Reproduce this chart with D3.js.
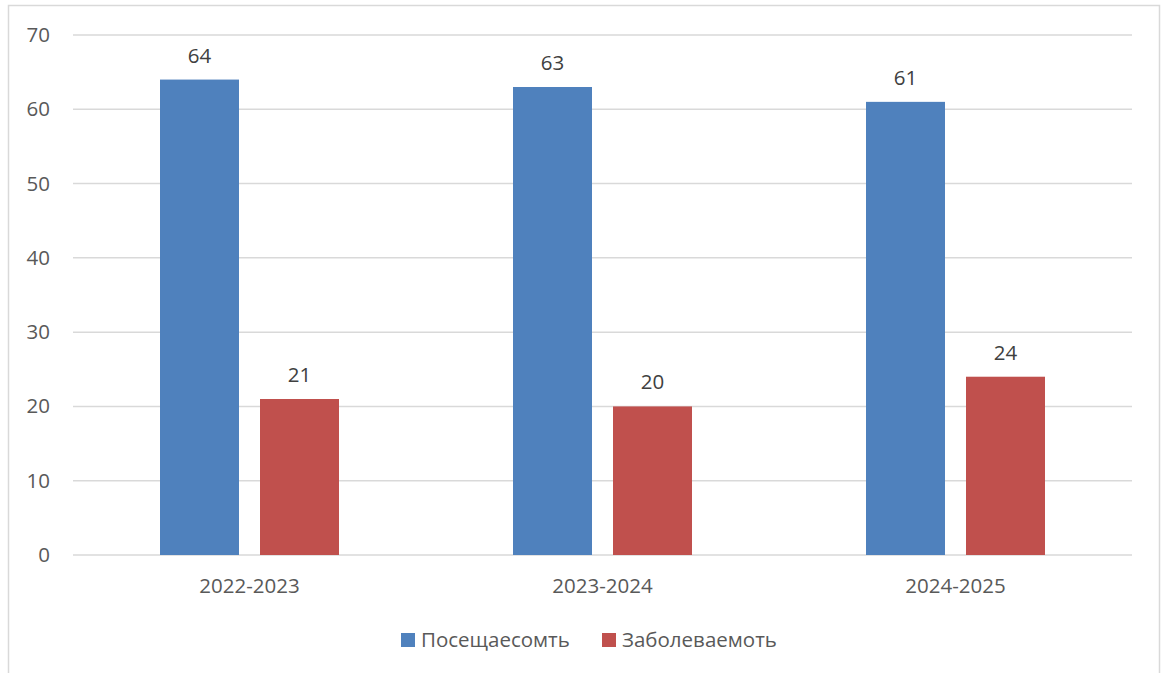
<!DOCTYPE html>
<html><head><meta charset="utf-8">
<script src="https://cdn.jsdelivr.net/npm/d3@7"></script>
<style>html,body{margin:0;padding:0;background:#fff;}svg{display:block;}</style>
</head><body>
<svg id="chart" width="1162" height="673"></svg>
<script>
const categories = ["2022-2023", "2023-2024", "2024-2025"];
const seriesNames = ["Посещаесомть", "Заболеваемоть"];
const attendance = [64, 63, 61];
const morbidity = [21, 20, 24];
const yTicks = [0, 10, 20, 30, 40, 50, 60, 70];
const colors = ["#4f81bd", "#c0504d"];

(function () {
const svg = d3.select("#chart");
const font = "'Open Sans', sans-serif";
const textColor = "#595959";
const fs = 20.5;

// outer border
svg.append("rect").attr("x", 8.5).attr("y", 5.5).attr("width", 1151).attr("height", 700)
  .attr("fill", "#fff").attr("stroke", "#d9d9d9").attr("stroke-width", 1.5);

const pL = 73, pR = 1132, pT = 35, pB = 555;
const x = d3.scaleBand().domain(categories).range([pL, pR]).paddingInner(0).paddingOuter(0);
const y = d3.scaleLinear().domain([0, 70]).range([pB, pT]);

// grid
svg.append("g").selectAll("line").data(yTicks).join("line")
  .attr("x1", pL).attr("x2", pR)
  .attr("y1", d => y(d)).attr("y2", d => y(d))
  .attr("stroke", "#d9d9d9").attr("stroke-width", 1.5);

// y axis labels
const yAxis = d3.axisLeft(y).tickValues(yTicks).tickSize(0).tickPadding(0);
const gy = svg.append("g").attr("transform", `translate(50,0)`).call(yAxis);
gy.select(".domain").remove();
gy.selectAll("text").attr("font-family", font).attr("font-size", fs).attr("fill", textColor);

// x axis labels
const xAxis = d3.axisBottom(x).tickSize(0).tickPadding(23);
const gx = svg.append("g").attr("transform", `translate(0,${pB})`).call(xAxis);
gx.select(".domain").remove();
gx.selectAll("text").attr("font-family", font).attr("font-size", fs).attr("fill", textColor);

const barW = 79, gap = 21;
const series = [attendance, morbidity];
const sub = d3.scaleOrdinal().domain([0, 1]).range([-(barW + gap / 2), gap / 2]);

series.forEach((vals, si) => {
  const g = svg.append("g");
  g.selectAll("rect").data(vals).join("rect")
    .attr("x", (d, i) => x(categories[i]) + x.bandwidth() / 2 + sub(si))
    .attr("y", d => y(d))
    .attr("width", barW)
    .attr("height", d => y(0) - y(d))
    .attr("fill", colors[si]);
  g.selectAll("text").data(vals).join("text")
    .attr("x", (d, i) => x(categories[i]) + x.bandwidth() / 2 + sub(si) + barW / 2)
    .attr("y", d => y(d) - 17)
    .attr("text-anchor", "middle")
    .attr("font-family", font).attr("font-size", fs).attr("fill", "#404040")
    .text(d => d);
});

// legend
const legendX = [401, 602];
seriesNames.forEach((name, i) => {
  svg.append("rect").attr("x", legendX[i]).attr("y", 633).attr("width", 14).attr("height", 14).attr("fill", colors[i]);
  svg.append("text").attr("x", legendX[i] + 20).attr("y", 647)
    .attr("font-family", font).attr("font-size", fs).attr("fill", textColor).text(name);
});
})();
</script>
</body></html>
